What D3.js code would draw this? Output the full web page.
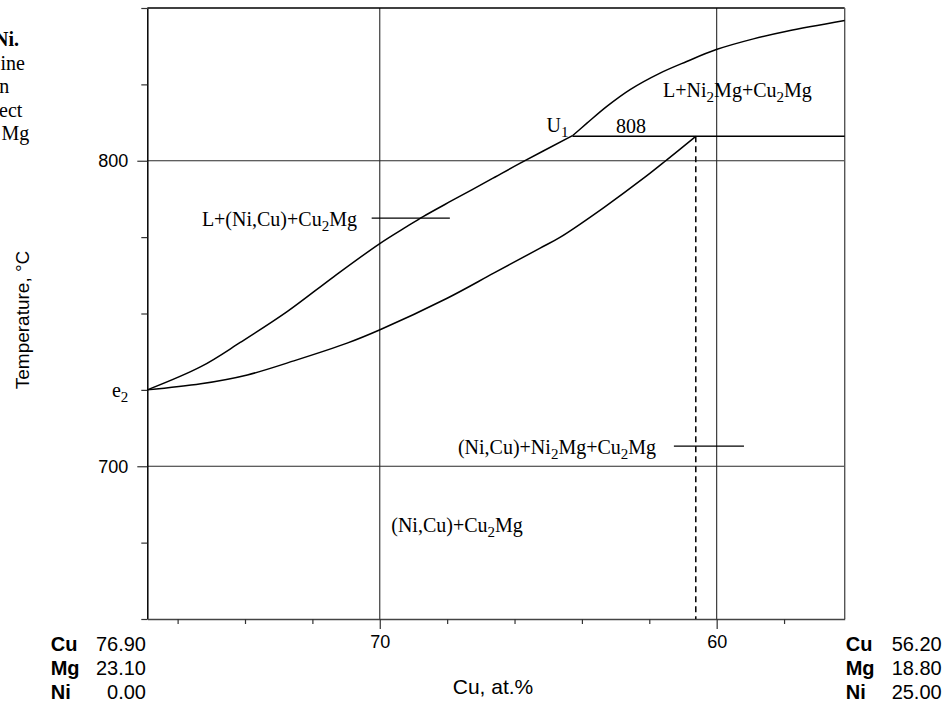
<!DOCTYPE html>
<html><head><meta charset="utf-8">
<script src="https://cdn.jsdelivr.net/npm/d3@7"></script>
<style>body{margin:0;background:#fff}svg{display:block}</style>
</head><body><svg id="c" width="952" height="707"></svg>
<script>
// ---- data (Cu at.%, Temperature °C) ----
const valleyLow = [[76.9,725],[75.31,732.6],[74.13,740.6],[72.75,750.6],[71.36,762.1],[70.01,772.8],[69.19,778.5],[68.70,781.8],[67.85,787.0],[66.72,793.8],[65.83,799.2],[64.28,808.2]];
const valleyHigh = [[64.28,808.2],[63.85,812.3],[63.26,817.8],[62.57,823.3],[61.68,828.7],[60.89,832.5],[60.01,836.4],[58.91,839.9],[57.92,842.4],[56.2,845.9]];
const lowerCurve = [[76.9,725],[75.31,727.0],[73.93,729.9],[72.55,734.5],[70.97,740.3],[70.01,744.6],[68.0,755.0],[66.62,763.2],[65.24,771.4],[64.64,775.0],[63.36,784.6],[62.12,794.7],[61.48,800.3],[60.62,808.0]];
const invariantT = 808;
const invariantCu = [64.28, 56.2];
const dashedCu = 60.62;
const xDomain = [76.9, 56.2];
const yDomain = [650, 850];
const xTicks = [76,74,72,70,68,66,64,62,60,58];
const xLabels = [70,60];
const yTicks = [650,675,700,725,750,775,800,825,850];
const yLabels = [700,800];
const leftComp = [["Cu","76.90"],["Mg","23.10"],["Ni","0.00"]];
const rightComp = [["Cu","56.20"],["Mg","18.80"],["Ni","25.00"]];
const phaseLabels = [
  {parts:[["L+(Ni,Cu)+Cu",0],["2",1],["Mg",0]], cu:75.28, t:778.6},
  {parts:[["(Ni,Cu)+Ni",0],["2",1],["Mg+Cu",0],["2",1],["Mg",0]], cu:67.68, t:704.0},
  {parts:[["(Ni,Cu)+Cu",0],["2",1],["Mg",0]], cu:69.66, t:678.6},
  {parts:[["L+Ni",0],["2",1],["Mg+Cu",0],["2",1],["Mg",0]], cu:61.59, t:821.0},
  {parts:[["U",0],["1",1]], cu:65.05, t:809.5},
  {parts:[["808",0]], cu:62.99, t:809.2},
  {parts:[["e",0],["2",1]], cu:77.95, t:722.7}
];
const tieLines = [[70.24,67.92,781.2],[61.27,59.19,706.6]];
const fragments = [["Ni.",19,46,true],["ine",25,69.5,false],["n",9.3,93,false],["ect",22.3,116.5,false],["Mg",29.3,140,false]];

// ---- layout ----
const L = 147.3, R = 844.7, T = 8, B = 619;
const svg = d3.select("#c");
const x = d3.scaleLinear().domain(xDomain).range([L, R]);
const y = d3.scaleLinear().domain(yDomain).range([B, T]);
const sans = "'Liberation Sans', Arial, sans-serif";
const serif = "'Liberation Serif', 'Times New Roman', serif";

// grid lines
const grid = svg.append("g").attr("stroke", "#2a2a2a").attr("stroke-width", 1.1);
xLabels.forEach(v => grid.append("line").attr("x1", x(v)).attr("x2", x(v)).attr("y1", T).attr("y2", B));
yLabels.forEach(v => grid.append("line").attr("x1", L).attr("x2", R).attr("y1", y(v)).attr("y2", y(v)));

// frame top & right
svg.append("line").attr("x1", L).attr("x2", R).attr("y1", T).attr("y2", T).attr("stroke", "#000").attr("stroke-width", 1.5);
svg.append("line").attr("x1", R).attr("x2", R).attr("y1", T).attr("y2", B).attr("stroke", "#555").attr("stroke-width", 1.4);

// left axis
const ay = svg.append("g").attr("transform", `translate(${L},0)`)
  .call(d3.axisLeft(y).tickValues(yTicks).tickSize(6).tickSizeOuter(0)
    .tickFormat(d => yLabels.includes(d) ? d : ""));
ay.select(".domain").attr("stroke", "#000").attr("stroke-width", 1.5);
ay.selectAll(".tick line").attr("stroke", "#333").attr("stroke-width", 1.2)
  .attr("x2", d => yLabels.includes(d) ? -10 : -6);
ay.selectAll(".tick text").attr("x", -19).attr("font-family", sans).attr("font-size", 18).attr("fill", "#000");

// bottom axis
const ax = svg.append("g").attr("transform", `translate(0,${B})`)
  .call(d3.axisBottom(x).tickValues(xTicks).tickSize(5).tickSizeOuter(0)
    .tickFormat(d => xLabels.includes(d) ? d : ""));
ax.select(".domain").attr("stroke", "#444").attr("stroke-width", 1.5);
ax.selectAll(".tick line").attr("stroke", "#333").attr("stroke-width", 1.2)
  .attr("y2", d => xLabels.includes(d) ? 10 : 5);
ax.selectAll(".tick text").attr("y", 16).attr("font-family", sans).attr("font-size", 18).attr("fill", "#000");

// curves
const line = d3.line().x(d => x(d[0])).y(d => y(d[1])).curve(d3.curveCatmullRom.alpha(0.5));
const cg = svg.append("g").attr("fill", "none").attr("stroke", "#000").attr("stroke-width", 1.5);
[valleyLow, valleyHigh, lowerCurve].forEach(c => cg.append("path").attr("d", line(c)));
cg.append("line").attr("x1", x(invariantCu[0])).attr("x2", x(invariantCu[1]))
  .attr("y1", y(invariantT)).attr("y2", y(invariantT));
cg.append("line").attr("x1", x(dashedCu)).attr("x2", x(dashedCu))
  .attr("y1", y(invariantT)).attr("y2", y(yDomain[0])).attr("stroke-dasharray", "6,4");
tieLines.forEach(t => cg.append("line").attr("x1", x(t[0])).attr("x2", x(t[1]))
  .attr("y1", y(t[2])).attr("y2", y(t[2])).attr("stroke-width", 1.2));

// phase labels
phaseLabels.forEach(p => {
  const t = svg.append("text").attr("x", x(p.cu)).attr("y", y(p.t))
    .attr("font-family", serif).attr("font-size", 20).attr("fill", "#000");
  let sub = false;
  p.parts.forEach(([s, isSub]) => {
    const ts = t.append("tspan").text(s);
    if (isSub && !sub) { ts.attr("dy", 5).attr("font-size", 15); sub = true; }
    else if (isSub) { ts.attr("font-size", 15); }
    else if (sub) { ts.attr("dy", -5); sub = false; }
  });
});

// axis titles
svg.append("text").attr("transform", "translate(29,320) rotate(-90)").attr("text-anchor", "middle")
  .attr("font-family", sans).attr("font-size", 19).text("Temperature, °C");
svg.append("text").attr("x", 493).attr("y", 694).attr("text-anchor", "middle")
  .attr("font-family", sans).attr("font-size", 21).text("Cu, at.%");

// composition corners
function comp(rows, lx, vx) {
  rows.forEach((r, i) => {
    const yy = 650.7 + i * 24.2;
    svg.append("text").attr("x", lx).attr("y", yy).attr("font-family", sans).attr("font-size", 20)
      .attr("font-weight", "bold").text(r[0]);
    svg.append("text").attr("x", vx).attr("y", yy).attr("text-anchor", "end").attr("font-family", sans)
      .attr("font-size", 20).text(r[1]);
  });
}
comp(leftComp, 50.7, 146);
comp(rightComp, 845.7, 941.7);

// clipped caption fragments at top-left
fragments.forEach(f => svg.append("text").attr("x", f[1]).attr("y", f[2]).attr("text-anchor", "end")
  .attr("font-family", serif).attr("font-size", 20).attr("font-weight", f[3] ? "bold" : "normal").text(f[0]));
</script></body></html>
